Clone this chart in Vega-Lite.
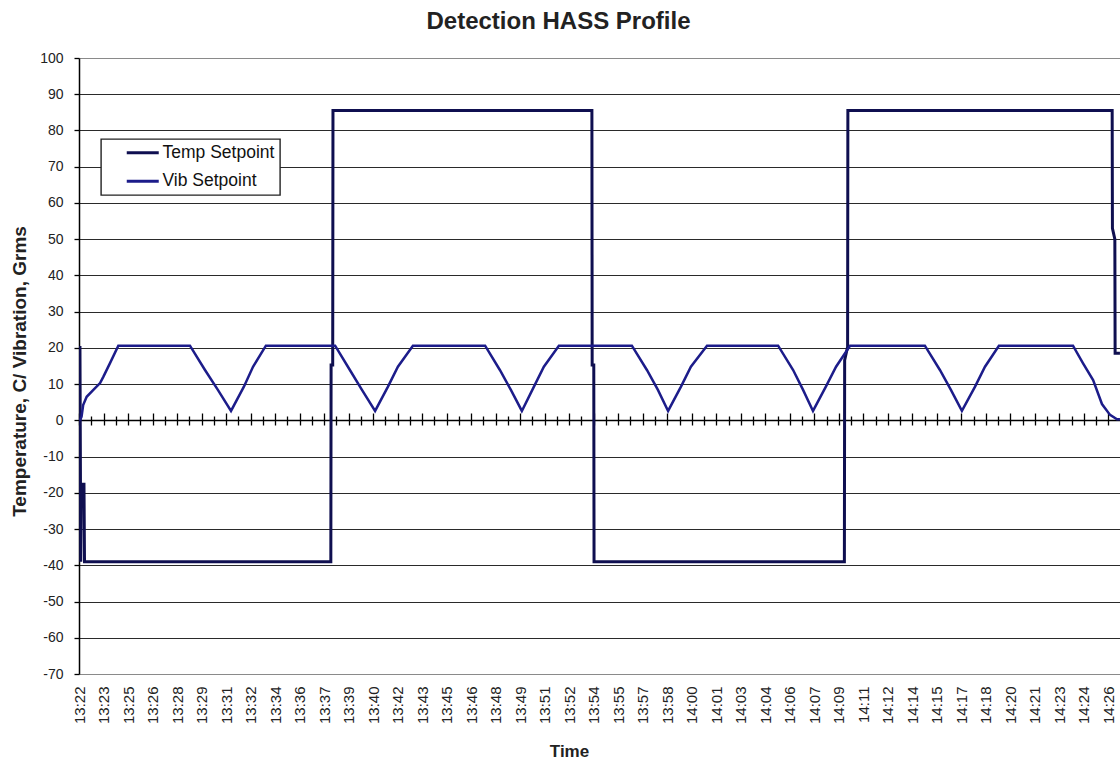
{
  "$schema": "https://vega.github.io/schema/vega-lite/v6.json",
  "autosize": {"type": "none"},
  "width": 1041,
  "height": 616,
  "padding": {"left": 79, "right": 0, "top": 58, "bottom": 87},
  "background": "white",
  "config": {"view": {"stroke": null}, "font": "Liberation Sans"},
  "title": {"text": "Detection HASS Profile", "font": "Liberation Sans", "fontSize": 24, "fontWeight": "bold", "color": "#222222", "anchor": "middle", "dx": -41, "offset": 17},
  "data": {
    "format": {"parse": {"Time": "utc:'%H:%M:%S'"}},
    "values": [
      {"Series": "Temp Setpoint", "Time": "13:22:22", "Value": 20.5},
      {"Series": "Temp Setpoint", "Time": "13:22:25", "Value": -39},
      {"Series": "Temp Setpoint", "Time": "13:22:27", "Value": -17.6},
      {"Series": "Temp Setpoint", "Time": "13:22:37", "Value": -17.6},
      {"Series": "Temp Setpoint", "Time": "13:22:39", "Value": -39},
      {"Series": "Temp Setpoint", "Time": "13:37:57", "Value": -39},
      {"Series": "Temp Setpoint", "Time": "13:37:58", "Value": 15.3},
      {"Series": "Temp Setpoint", "Time": "13:38:04", "Value": 15.3},
      {"Series": "Temp Setpoint", "Time": "13:38:05", "Value": 85.5},
      {"Series": "Temp Setpoint", "Time": "13:54:10", "Value": 85.5},
      {"Series": "Temp Setpoint", "Time": "13:54:11", "Value": 15.3},
      {"Series": "Temp Setpoint", "Time": "13:54:17", "Value": 15.3},
      {"Series": "Temp Setpoint", "Time": "13:54:18", "Value": -39},
      {"Series": "Temp Setpoint", "Time": "14:09:51", "Value": -39},
      {"Series": "Temp Setpoint", "Time": "14:09:52", "Value": 16.6},
      {"Series": "Temp Setpoint", "Time": "14:10:03", "Value": 20.3},
      {"Series": "Temp Setpoint", "Time": "14:10:04", "Value": 85.5},
      {"Series": "Temp Setpoint", "Time": "14:26:29", "Value": 85.5},
      {"Series": "Temp Setpoint", "Time": "14:26:30", "Value": 53},
      {"Series": "Temp Setpoint", "Time": "14:26:39", "Value": 50},
      {"Series": "Temp Setpoint", "Time": "14:26:40", "Value": 18.5},
      {"Series": "Temp Setpoint", "Time": "14:26:58", "Value": 18.5},
      {"Series": "Vib Setpoint", "Time": "13:22:22", "Value": 0},
      {"Series": "Vib Setpoint", "Time": "13:22:28", "Value": 1.0},
      {"Series": "Vib Setpoint", "Time": "13:22:34", "Value": 4.2},
      {"Series": "Vib Setpoint", "Time": "13:22:47", "Value": 6.5},
      {"Series": "Vib Setpoint", "Time": "13:23:12", "Value": 8.4},
      {"Series": "Vib Setpoint", "Time": "13:23:37", "Value": 10.3},
      {"Series": "Vib Setpoint", "Time": "13:23:49", "Value": 12},
      {"Series": "Vib Setpoint", "Time": "13:24:14", "Value": 15.8},
      {"Series": "Vib Setpoint", "Time": "13:24:45", "Value": 20.6},
      {"Series": "Vib Setpoint", "Time": "13:29:12", "Value": 20.6},
      {"Series": "Vib Setpoint", "Time": "13:30:08", "Value": 13.9},
      {"Series": "Vib Setpoint", "Time": "13:30:56", "Value": 8.4},
      {"Series": "Vib Setpoint", "Time": "13:31:45", "Value": 2.6},
      {"Series": "Vib Setpoint", "Time": "13:32:33", "Value": 9.3},
      {"Series": "Vib Setpoint", "Time": "13:33:07", "Value": 14.8},
      {"Series": "Vib Setpoint", "Time": "13:33:55", "Value": 20.6},
      {"Series": "Vib Setpoint", "Time": "13:38:13", "Value": 20.6},
      {"Series": "Vib Setpoint", "Time": "13:39:08", "Value": 13.9},
      {"Series": "Vib Setpoint", "Time": "13:39:53", "Value": 8.4},
      {"Series": "Vib Setpoint", "Time": "13:40:42", "Value": 2.6},
      {"Series": "Vib Setpoint", "Time": "13:41:30", "Value": 9.3},
      {"Series": "Vib Setpoint", "Time": "13:42:07", "Value": 14.8},
      {"Series": "Vib Setpoint", "Time": "13:43:03", "Value": 20.6},
      {"Series": "Vib Setpoint", "Time": "13:47:32", "Value": 20.6},
      {"Series": "Vib Setpoint", "Time": "13:48:27", "Value": 13.9},
      {"Series": "Vib Setpoint", "Time": "13:49:08", "Value": 8.4},
      {"Series": "Vib Setpoint", "Time": "13:49:49", "Value": 2.6},
      {"Series": "Vib Setpoint", "Time": "13:50:34", "Value": 9.3},
      {"Series": "Vib Setpoint", "Time": "13:51:11", "Value": 14.8},
      {"Series": "Vib Setpoint", "Time": "13:52:07", "Value": 20.6},
      {"Series": "Vib Setpoint", "Time": "13:56:39", "Value": 20.6},
      {"Series": "Vib Setpoint", "Time": "13:57:35", "Value": 13.9},
      {"Series": "Vib Setpoint", "Time": "13:58:16", "Value": 8.4},
      {"Series": "Vib Setpoint", "Time": "13:58:54", "Value": 2.6},
      {"Series": "Vib Setpoint", "Time": "13:59:42", "Value": 9.3},
      {"Series": "Vib Setpoint", "Time": "14:00:19", "Value": 14.8},
      {"Series": "Vib Setpoint", "Time": "14:01:19", "Value": 20.6},
      {"Series": "Vib Setpoint", "Time": "14:05:44", "Value": 20.6},
      {"Series": "Vib Setpoint", "Time": "14:06:40", "Value": 13.9},
      {"Series": "Vib Setpoint", "Time": "14:07:17", "Value": 8.4},
      {"Series": "Vib Setpoint", "Time": "14:07:54", "Value": 2.6},
      {"Series": "Vib Setpoint", "Time": "14:08:42", "Value": 9.3},
      {"Series": "Vib Setpoint", "Time": "14:09:20", "Value": 14.8},
      {"Series": "Vib Setpoint", "Time": "14:10:12", "Value": 20.6},
      {"Series": "Vib Setpoint", "Time": "14:14:51", "Value": 20.6},
      {"Series": "Vib Setpoint", "Time": "14:15:47", "Value": 13.9},
      {"Series": "Vib Setpoint", "Time": "14:16:28", "Value": 8.4},
      {"Series": "Vib Setpoint", "Time": "14:17:09", "Value": 2.6},
      {"Series": "Vib Setpoint", "Time": "14:17:58", "Value": 9.3},
      {"Series": "Vib Setpoint", "Time": "14:18:35", "Value": 14.8},
      {"Series": "Vib Setpoint", "Time": "14:19:27", "Value": 20.6},
      {"Series": "Vib Setpoint", "Time": "14:24:03", "Value": 20.6},
      {"Series": "Vib Setpoint", "Time": "14:24:40", "Value": 15.8},
      {"Series": "Vib Setpoint", "Time": "14:25:18", "Value": 11.1},
      {"Series": "Vib Setpoint", "Time": "14:25:51", "Value": 4.5},
      {"Series": "Vib Setpoint", "Time": "14:26:21", "Value": 1.5},
      {"Series": "Vib Setpoint", "Time": "14:26:47", "Value": 0.3},
      {"Series": "Vib Setpoint", "Time": "14:26:58", "Value": 0.3}
    ]
  },
  "layer": [
    {
      "transform": [{"filter": "datum.Series === 'Temp Setpoint'"}],
      "mark": {"type": "line", "strokeWidth": 3, "clip": true, "strokeJoin": "miter", "strokeMiterLimit": 3},
      "encoding": {
        "x": {
          "field": "Time", "type": "temporal",
          "scale": {"type": "utc", "domain": [-2208940661550, -2208936781800]},
          "axis": {
            "orient": "bottom",
            "values": [-2208940661550, -2208940570200, -2208940478850, -2208940387500, -2208940296150, -2208940204800, -2208940113450, -2208940022100, -2208939930750, -2208939839400, -2208939748050, -2208939656700, -2208939565350, -2208939474000, -2208939382650, -2208939291300, -2208939199950, -2208939108600, -2208939017250, -2208938925900, -2208938834550, -2208938743200, -2208938651850, -2208938560500, -2208938469150, -2208938377800, -2208938286450, -2208938195100, -2208938103750, -2208938012400, -2208937921050, -2208937829700, -2208937738350, -2208937647000, -2208937555650, -2208937464300, -2208937372950, -2208937281600, -2208937190250, -2208937098900, -2208937007550, -2208936916200, -2208936824850],
            "tickCount": 60,
            "labelExpr": "utcFormat(datum.value, '%H:%M')",
            "labelAngle": 270,
            "labelFontSize": 15,
            "labelColor": "#222222",
            "labelPadding": 12,
            "labelOverlap": false,
            "labelFlush": false,
            "labelBound": false,
            "ticks": false,
            "tickSize": 0,
            "domain": false,
            "grid": false,
            "title": "Time",
            "titleFontSize": 17,
            "titleFontWeight": "bold",
            "titleColor": "#222222",
            "titleX": 490,
            "titleY": 82,
            "titleBaseline": "alphabetic"
          }
        },
        "y": {
          "field": "Value", "type": "quantitative",
          "scale": {"domain": [-70, 100], "nice": false, "zero": false},
          "axis": {
            "values": [-70, -60, -50, -40, -30, -20, -10, 0, 10, 20, 30, 40, 50, 60, 70, 80, 90, 100],
            "tickCount": 30,
            "labelOverlap": false,
            "labelExpr": "'' + datum.value",
            "grid": true,
            "gridColor": {"condition": [{"test": "datum.value === 0", "value": "#000000"}, {"test": "datum.value === 100 || datum.value === -70", "value": "#8a8a8a"}], "value": "#2a2a2a"},
            "gridWidth": {"condition": {"test": "datum.value === 0", "value": 1.6}, "value": 1},
            "labelFontSize": 14,
            "labelColor": "#222222",
            "labelPadding": 11,
            "tickSize": 5,
            "tickColor": "#000000",
            "tickWidth": 1.3,
            "domainColor": "#000000",
            "domainWidth": 1.5,
            "title": "Temperature, C/ Vibration, Grms",
            "titleFontSize": 19,
            "titleFontWeight": "bold",
            "titleColor": "#222222",
            "titleAngle": 270,
            "titleX": -54,
            "titleY": 313,
            "titleBaseline": "alphabetic"
          }
        },
        "color": {
          "field": "Series", "type": "nominal",
          "scale": {"domain": ["Temp Setpoint", "Vib Setpoint"], "range": ["#0f0f50", "#1c1c8a"]},
          "legend": {
            "title": null,
            "orient": "none",
            "legendX": 22,
            "legendY": 81,
            "direction": "vertical",
            "strokeColor": "#222222",
            "fillColor": "#ffffff",
            "padding": 5,
            "symbolType": "M-3.2,0H3.2",
            "symbolSize": 100,
            "symbolStrokeWidth": 3,
            "symbolOffset": 28,
            "labelOffset": 11,
            "labelFontSize": 17.5,
            "labelColor": "#111111",
            "rowPadding": 9.5,
            "encode": {
              "legend": {
                "update": {
                  "width": {"value": 187},
                  "strokeWidth": {"value": 1.4}
                }
              },
              "symbols": {
                "update": {
                  "stroke": {"scale": "color", "field": "value"},
                  "fill": {"value": "transparent"},
                  "strokeWidth": {"value": 3}
                }
              }
            }
          }
        }
      }
    },
    {
      "transform": [{"filter": "datum.Series === 'Vib Setpoint'"}],
      "mark": {"type": "line", "strokeWidth": 2.5, "clip": true},
      "encoding": {
        "x": {
          "field": "Time", "type": "temporal",
          "scale": {"type": "utc", "domain": [-2208940661550, -2208936781800]},
          "axis": {
            "orient": "top",
            "offset": -367,
            "labels": false,
            "domain": false,
            "grid": false,
            "title": null,
            "tickCount": 200,
            "tickColor": "#000000",
            "tickWidth": 1.3,
            "tickSize": {"condition": {"test": "((+datum.value + 2208940661550) % 91350) === 0", "value": 12}, "value": 9},
            "values": [-2208940661550, -2208940570200, -2208940478850, -2208940387500, -2208940296150, -2208940204800, -2208940113450, -2208940022100, -2208939930750, -2208939839400, -2208939748050, -2208939656700, -2208939565350, -2208939474000, -2208939382650, -2208939291300, -2208939199950, -2208939108600, -2208939017250, -2208938925900, -2208938834550, -2208938743200, -2208938651850, -2208938560500, -2208938469150, -2208938377800, -2208938286450, -2208938195100, -2208938103750, -2208938012400, -2208937921050, -2208937829700, -2208937738350, -2208937647000, -2208937555650, -2208937464300, -2208937372950, -2208937281600, -2208937190250, -2208937098900, -2208937007550, -2208936916200, -2208936824850, -2208940615875, -2208940524525, -2208940433175, -2208940341825, -2208940250475, -2208940159125, -2208940067775, -2208939976425, -2208939885075, -2208939793725, -2208939702375, -2208939611025, -2208939519675, -2208939428325, -2208939336975, -2208939245625, -2208939154275, -2208939062925, -2208938971575, -2208938880225, -2208938788875, -2208938697525, -2208938606175, -2208938514825, -2208938423475, -2208938332125, -2208938240775, -2208938149425, -2208938058075, -2208937966725, -2208937875375, -2208937784025, -2208937692675, -2208937601325, -2208937509975, -2208937418625, -2208937327275, -2208937235925, -2208937144575, -2208937053225, -2208936961875, -2208936870525]
          }
        },
        "y": {
          "field": "Value", "type": "quantitative",
          "scale": {"domain": [-70, 100], "nice": false, "zero": false}
        },
        "color": {"field": "Series", "type": "nominal"}
      }
    }
  ],
  "resolve": {"axis": {"x": "independent"}}
}
